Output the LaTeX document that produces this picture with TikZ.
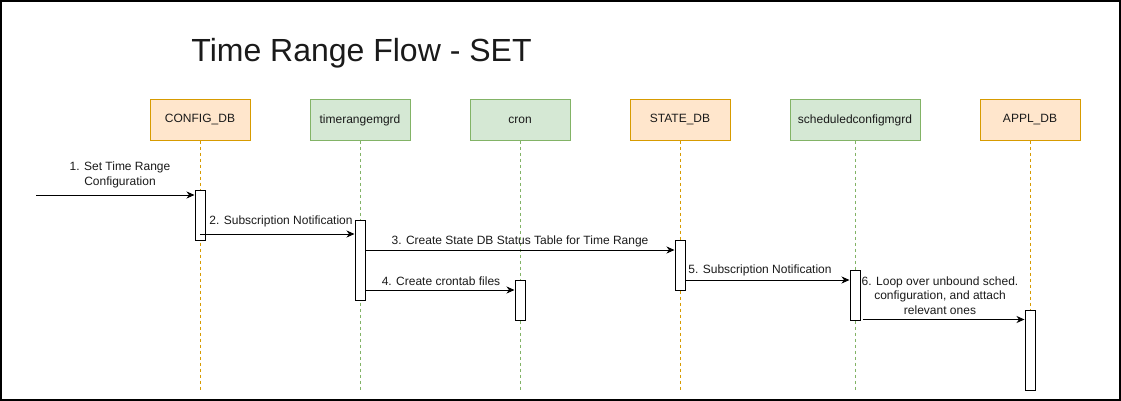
\documentclass[tikz,border=0pt]{standalone}
\usepackage{fontspec}
\setmainfont{Liberation Sans}
\usetikzlibrary{arrows.meta}
\definecolor{ofill}{HTML}{FFE6CC}
\definecolor{ostroke}{HTML}{D79B00}
\definecolor{gfill}{HTML}{D5E8D4}
\definecolor{gstroke}{HTML}{82B366}
\definecolor{txt}{HTML}{1A1A1A}
\begin{document}
\begin{tikzpicture}[x=1pt,y=-1pt,
  font=\fontsize{12}{14.4}\selectfont,
  head/.style={line width=1pt, minimum height=40pt, inner sep=0pt, text=txt},
  ohead/.style={head, draw=ostroke, fill=ofill, minimum width=100pt},
  ghead/.style={head, draw=gstroke, fill=gfill, minimum width=100pt},
  lifeO/.style={draw=ostroke, line width=0.8pt, dash pattern=on 3pt off 3pt},
  lifeG/.style={draw=gstroke, line width=0.8pt, dash pattern=on 3pt off 3pt},
  act/.style={draw=black, fill=white, line width=1pt, minimum width=10pt, inner sep=0pt},
  msg/.style={draw=black, line width=1pt, -{Stealth[length=8pt,width=7pt,inset=2.5pt]}},
  lbl/.style={text=txt, inner sep=0pt, align=center}
]
\useasboundingbox (0,0) rectangle (1121,401);
\draw[line width=1.5pt] (1,1) rectangle (1120,400);

\node[font=\fontsize{32}{38}\selectfont, anchor=base, text=txt, inner sep=0pt] (title) at (361.5,62) {Time Range Flow - SET};

% heads
\node[ohead] (cfg) at (200,120) {CONFIG\_DB};
\node[ghead] (trm) at (360,120) {timerangemgrd};
\node[ghead] (cron) at (520,120) {cron};
\node[ohead] (st) at (680,120) {STATE\_DB};
\node[ghead, minimum width=130pt] (scm) at (855,120) {scheduledconfigmgrd};
\node[ohead] (appl) at (1030,120) {APPL\_DB};

\coordinate (bot) at (0,390);
\draw[lifeO] (cfg.south) -- (cfg.south |- bot);
\draw[lifeG] (trm.south) -- (trm.south |- bot);
\draw[lifeG] (cron.south) -- (cron.south |- bot);
\draw[lifeO] (st.south) -- (st.south |- bot);
\draw[lifeG] (scm.south) -- (scm.south |- bot);
\draw[lifeO] (appl.south) -- (appl.south |- bot);

% activations
\node[act, minimum height=50pt] (a1) at (200,215) {};
\node[act, minimum height=80pt] (a2) at (360,260) {};
\node[act, minimum height=40pt] (a3) at (520,300) {};
\node[act, minimum height=50pt] (a4) at (680,265) {};
\node[act, minimum height=50pt] (a5) at (855,295) {};
\node[act, minimum height=80pt] (a6) at (1030,350) {};

% message rows
\coordinate (s1) at (36,195);
\coordinate (y2) at (0,234);
\coordinate (y3) at (0,250);
\coordinate (y4) at (0,290);
\coordinate (y5) at (0,280);
\coordinate (y6) at (0,319.5);

\draw[msg] (s1) -- (a1.west |- s1);
\draw[msg] (a1.center |- y2) -- (a2.west |- y2);
\draw[msg] (a2.east |- y3) -- (a4.west |- y3);
\draw[msg] (a2.east |- y4) -- (a3.west |- y4);
\draw[msg] (a4.east |- y5) -- (a5.west |- y5);
\draw[msg] ([xshift=2pt]a5.east |- y6) -- (a6.west |- y6);

% labels
\node[lbl] (l1) at (120,175) {1. Set Time Range\\Configuration};
\node[lbl] (l2) at (281,221) {2. Subscription Notification};
\node[lbl] (l3) at (520,241) {3. Create State DB Status Table for Time Range};
\node[lbl] (l4) at (441,281) {4. Create crontab files};
\node[lbl] (l5) at (760,270) {5. Subscription Notification};
\node[lbl] (l6) at (940,295.5) {6. Loop over unbound sched.\\configuration, and attach\\relevant ones};
\end{tikzpicture}
\end{document}
